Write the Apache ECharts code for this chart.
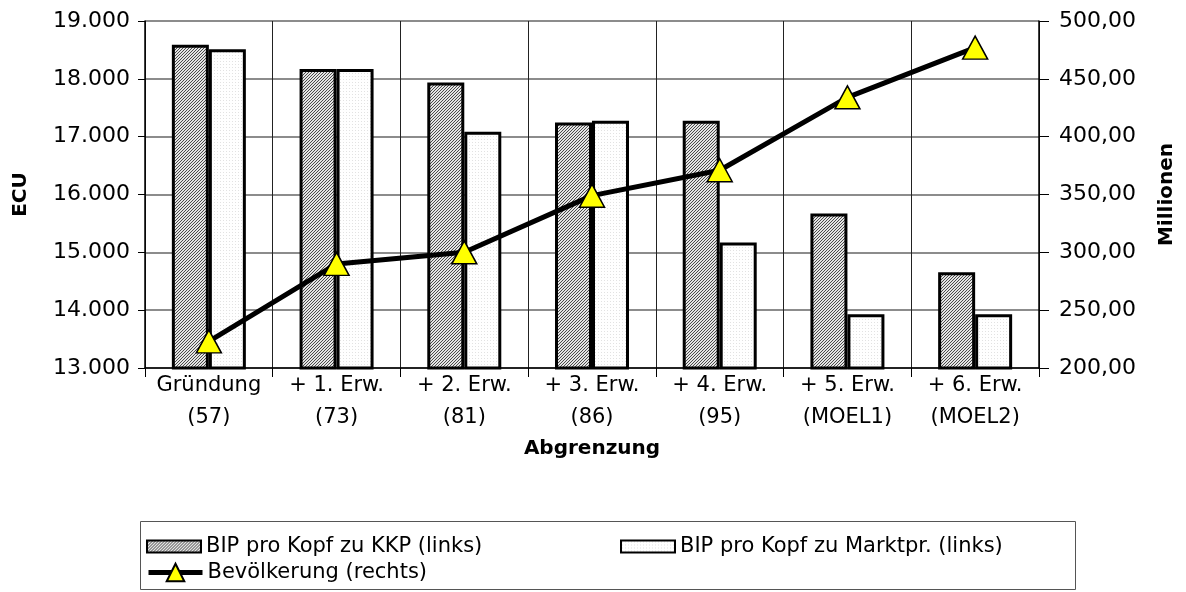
<!DOCTYPE html>
<html>
<head>
<meta charset="utf-8">
<script src="https://cdn.jsdelivr.net/npm/echarts@6/dist/echarts.min.js"></script>
<style>
  html, body { margin: 0; padding: 0; background: #fff; }
  #chart { width: 1186px; height: 592px; }
</style>
</head>
<body>
<div id="chart"></div>
<script>
// values
const categories = [
  'Gründung\n(57)', '+ 1. Erw.\n(73)', '+ 2. Erw.\n(81)', '+ 3. Erw.\n(86)',
  '+ 4. Erw.\n(95)', '+ 5. Erw.\n(MOEL1)', '+ 6. Erw.\n(MOEL2)'
];
const bipKkp    = [18590, 18170, 17935, 17245, 17275, 15670, 14655];
const bipMarkt  = [18510, 18170, 17085, 17275, 15170, 13930, 13930];
const bevoelkerung = [223, 290, 300, 349, 371, 434, 477];

const FONT = '"DejaVu Sans", sans-serif';

// — hatch patterns for the bars —
function makePattern(size, bg, fg, pixels) {
  const c = document.createElement('canvas');
  c.width = size; c.height = size;
  const ctx = c.getContext('2d');
  ctx.fillStyle = bg;
  ctx.fillRect(0, 0, size, size);
  ctx.fillStyle = fg;
  pixels.forEach(([x, y]) => ctx.fillRect(x, y, 1, 1));
  return { image: c, repeat: 'repeat' };
}
const hatch = makePattern(3, '#e4e4e4', '#4a4a4a', [[0, 2], [1, 1], [2, 0]]);
const dots  = makePattern(3, '#ffffff', '#e2e2e2', [[1, 1]]);

const chart = echarts.init(document.getElementById('chart'));

const legendText = { fontFamily: FONT, fontSize: 21, color: '#000' };
const legendBase = {
  itemWidth: 54, itemHeight: 12, itemGap: 0, padding: 0,
  icon: 'rect', textStyle: legendText
};

chart.setOption({
  animation: false,
  textStyle: { fontFamily: FONT },
  grid: { left: 145, right: 147, top: 21, bottom: 224 },
  graphic: [{
    type: 'rect',
    shape: { x: 140.5, y: 521.5, width: 935, height: 68 },
    style: { fill: 'none', stroke: '#555', lineWidth: 1 },
    silent: true
  }],
  legend: [
    Object.assign({}, legendBase, {
      data: ['BIP pro Kopf zu KKP (links)'], left: 146, top: 536 }),
    Object.assign({}, legendBase, {
      data: ['BIP pro Kopf zu Marktpr. (links)'], left: 620, top: 536 }),
    {
      data: ['Bevölkerung (rechts)'], left: 146, top: 562,
      itemWidth: 54, itemHeight: 22, itemGap: 0, padding: 0,
      textStyle: legendText,
      lineStyle: { width: 5, color: '#000' }
    }
  ],
  xAxis: {
    type: 'category',
    data: categories,
    name: 'Abgrenzung',
    nameLocation: 'middle',
    nameGap: 67,
    nameTextStyle: { fontFamily: FONT, fontSize: 20, fontWeight: 'bold', color: '#000' },
    axisLine: { lineStyle: { color: '#000', width: 1.5 } },
    axisTick: { show: true, length: 9, lineStyle: { color: '#000', width: 1 } },
    axisLabel: { fontSize: 21, color: '#000', lineHeight: 32, margin: 2, interval: 0 },
    splitLine: { show: true, lineStyle: { color: '#222', width: 1 } }
  },
  yAxis: [
    {
      type: 'value', min: 13000, max: 19000, interval: 1000,
      name: 'ECU', nameLocation: 'middle', nameGap: 114, nameRotate: 90,
      nameTextStyle: { fontFamily: FONT, fontSize: 20, fontWeight: 'bold', color: '#000' },
      axisLine: { show: true, lineStyle: { color: '#000', width: 1.5 } },
      axisTick: { show: true, length: 7, lineStyle: { color: '#000' } },
      axisLabel: { fontSize: 22, color: '#000', margin: 15,
        formatter: v => v.toLocaleString('de-DE') },
      splitLine: { show: true, lineStyle: { color: '#666', width: 1.5 } }
    },
    {
      type: 'value', min: 200, max: 500, interval: 50,
      name: 'Millionen', nameLocation: 'middle', nameGap: 118, nameRotate: 90,
      nameTextStyle: { fontFamily: FONT, fontSize: 20, fontWeight: 'bold', color: '#000' },
      axisLine: { show: true, lineStyle: { color: '#000', width: 1.5 } },
      axisTick: { show: true, length: 10, lineStyle: { color: '#000' } },
      axisLabel: { fontSize: 22, color: '#000', margin: 20,
        formatter: v => v.toFixed(2).replace('.', ',') },
      splitLine: { show: false }
    }
  ],
  series: [
    {
      name: 'BIP pro Kopf zu KKP (links)',
      type: 'bar',
      data: bipKkp,
      barWidth: 37,
      barGap: '0%',
      itemStyle: { color: hatch, borderColor: '#000', borderWidth: 3 }
    },
    {
      name: 'BIP pro Kopf zu Marktpr. (links)',
      type: 'bar',
      data: bipMarkt,
      barWidth: 37,
      itemStyle: { color: dots, borderColor: '#000', borderWidth: 3 }
    },
    {
      name: 'Bevölkerung (rechts)',
      type: 'line',
      yAxisIndex: 1,
      data: bevoelkerung,
      z: 5,
      symbol: 'triangle',
      symbolSize: [25, 23],
      lineStyle: { color: '#000', width: 5 },
      itemStyle: { color: '#ffff00', borderColor: '#000', borderWidth: 1.5 }
    }
  ]
});
</script>
</body>
</html>
